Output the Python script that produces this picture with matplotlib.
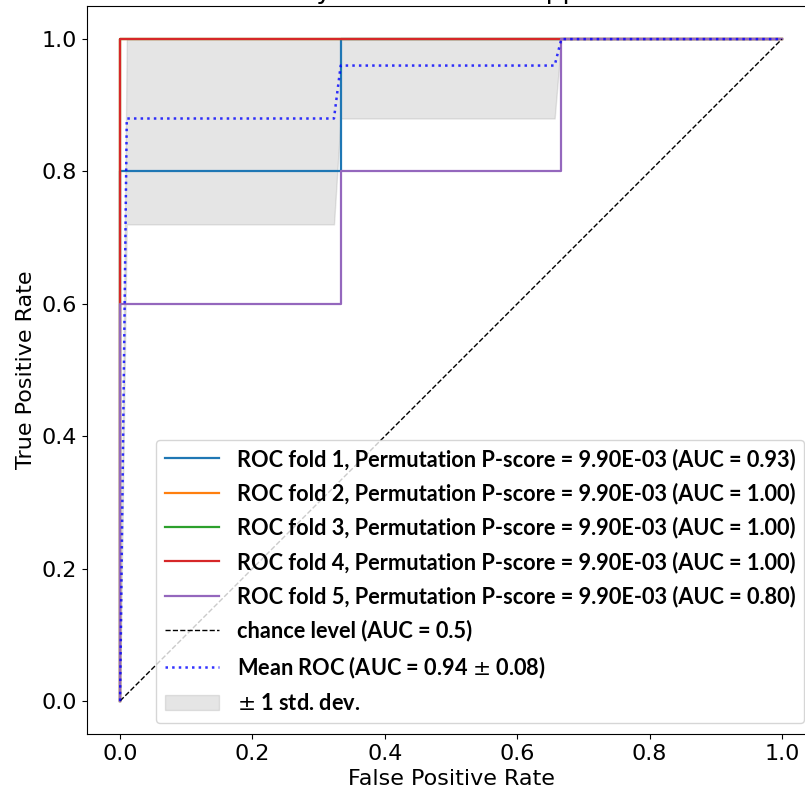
import matplotlib
matplotlib.use("Agg")
import matplotlib.pyplot as plt

# per-fold ROC points
fold_fpr = [
    [0.0, 0.0, 0.3333, 0.3333, 1.0],
    [0.0, 0.0, 1.0],
    [0.0, 0.0, 1.0],
    [0.0, 0.0, 1.0],
    [0.0, 0.0, 0.3333, 0.3333, 0.6667, 0.6667, 1.0],
]
fold_tpr = [
    [0.0, 0.8, 0.8, 1.0, 1.0],
    [0.0, 1.0, 1.0],
    [0.0, 1.0, 1.0],
    [0.0, 1.0, 1.0],
    [0.0, 0.6, 0.6, 0.8, 0.8, 1.0, 1.0],
]
fold_auc = [0.93, 1.00, 1.00, 1.00, 0.80]
fold_colors = ["tab:blue", "tab:orange", "tab:green", "tab:red", "tab:purple"]
p_score = 9.90e-03

# mean curve and +/- 1 std band
mean_fpr = [0.0, 0.0101, 0.3232, 0.3333, 0.6566, 0.6667, 1.0]
mean_tpr = [0.0, 0.88, 0.88, 0.96, 0.96, 1.0, 1.0]
tpr_lower = [0.0, 0.72, 0.72, 0.88, 0.88, 1.0, 1.0]
tpr_upper = [0.0, 1.0, 1.0, 1.0, 1.0, 1.0, 1.0]
mean_auc = 0.94
std_auc = 0.08

plt.rcParams['font.size'] = 16

fig = plt.figure(figsize=(8.05, 7.95), dpi=100)
# right edge of the axes falls outside the picture, like the reference crop
ax = fig.add_axes([87 / 805, 61 / 795, 728 / 805, 728 / 795])

for i in range(5):
    ax.plot(fold_fpr[i], fold_tpr[i], color=fold_colors[i], lw=1.6,
            label=f"ROC fold {i + 1}, Permutation P-score = {p_score:.2E} (AUC = {fold_auc[i]:.2f})")

ax.plot([0, 1], [0, 1], "k--", lw=1, label="chance level (AUC = 0.5)")
ax.plot(mean_fpr, mean_tpr, color="b", ls=":", lw=1.8, alpha=0.8,
        label=r"Mean ROC (AUC = %0.2f $\pm$ %0.2f)" % (mean_auc, std_auc))
ax.fill_between(mean_fpr, tpr_lower, tpr_upper, color="grey", alpha=0.2,
                label=r"$\pm$ 1 std. dev.")

ax.set_xlim(-0.05, 1.05)
ax.set_ylim(-0.05, 1.05)
ax.set_xlabel("False Positive Rate")
ax.set_ylabel("True Positive Rate")
ax.set_title("ROC Analysis for Linear Support Vector")

ax.legend(loc="lower right", handlelength=2.5, labelspacing=0.58,
          prop={"family": "Lato", "weight": "bold", "size": 15.7})

fig.savefig("out.png", dpi=100)
